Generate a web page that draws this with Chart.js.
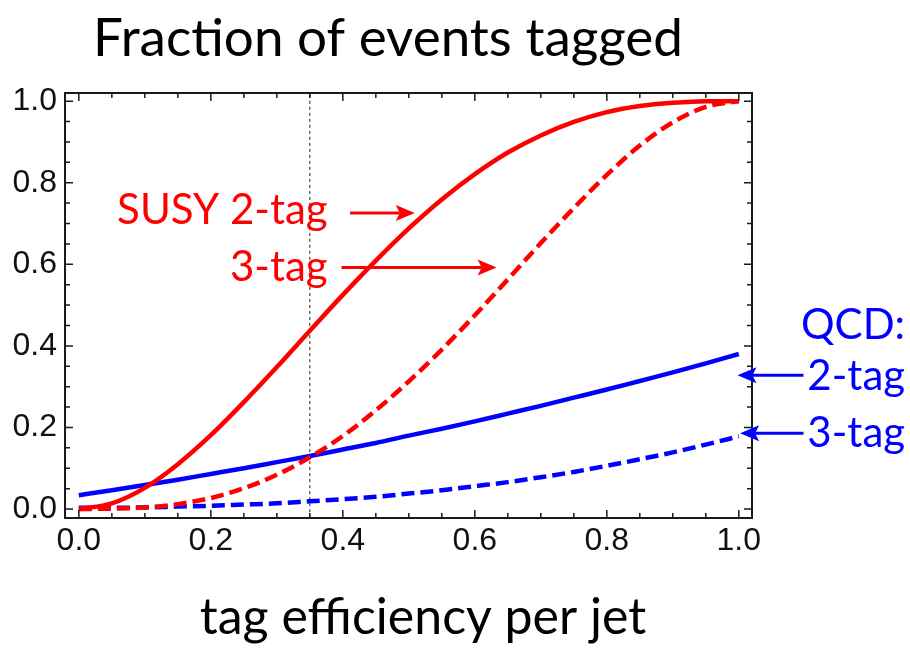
<!DOCTYPE html>
<html>
<head>
<meta charset="utf-8">
<script src="https://cdn.jsdelivr.net/npm/chart.js@4.4.1/dist/chart.umd.min.js"></script>
<style>
  html, body { margin: 0; padding: 0; background: #fff; }
  #wrap { width: 910px; height: 649px; }
</style>
</head>
<body>
<div id="wrap"><canvas id="chart" width="910" height="649"></canvas></div>
<script>
// tag efficiency per jet
const EFF = [0, 0.05, 0.1, 0.15, 0.2, 0.25, 0.3, 0.35, 0.4, 0.45, 0.5,
             0.55, 0.6, 0.65, 0.7, 0.75, 0.8, 0.85, 0.9, 0.95, 1.0];

// fraction of events tagged
const SUSY_2TAG = [0, 0.014, 0.052, 0.110, 0.181, 0.262, 0.348, 0.437, 0.525, 0.609, 0.688,
                   0.759, 0.821, 0.874, 0.916, 0.949, 0.973, 0.988, 0.996, 1.000, 1.000];
const SUSY_3TAG = [0, 0.001, 0.004, 0.012, 0.027, 0.051, 0.084, 0.127, 0.179, 0.242, 0.313,
                   0.391, 0.475, 0.563, 0.652, 0.738, 0.819, 0.891, 0.948, 0.986, 1.000];
const QCD_2TAG  = [0.034, 0.046, 0.059, 0.072, 0.086, 0.100, 0.115, 0.130, 0.146, 0.162, 0.180,
                   0.197, 0.215, 0.234, 0.253, 0.273, 0.293, 0.314, 0.335, 0.357, 0.380];
const QCD_3TAG  = [0.003, 0.003, 0.004, 0.006, 0.008, 0.011, 0.014, 0.019, 0.024, 0.030, 0.038,
                   0.046, 0.056, 0.066, 0.078, 0.091, 0.106, 0.122, 0.139, 0.158, 0.178];

const X_TICKS = [0, 0.2, 0.4, 0.6, 0.8, 1.0];
const Y_TICKS = [0, 0.2, 0.4, 0.6, 0.8, 1.0];
const CUT_EFF = 0.35;

const X_RANGE = [-0.021, 1.02];
const Y_RANGE = [-0.022, 1.02];

const RED = '#ff0000';
const BLUE = '#0000ff';
const LABEL_FONT = 'Lato, "Open Sans", sans-serif';

// labels with arrows, placed in data coordinates
const NOTES = [
  { text: 'SUSY 2-tag', color: RED,  at: [0.377, 0.700], align: 'right', arrow: [[0.411, 0.726], [0.509, 0.726]] },
  { text: '3-tag',      color: RED,  at: [0.377, 0.560], align: 'right', arrow: [[0.398, 0.592], [0.633, 0.592]] },
  { text: 'QCD:',       color: BLUE, at: [1.252, 0.418], align: 'right' },
  { text: '2-tag',      color: BLUE, at: [1.252, 0.291], align: 'right', arrow: [[1.098, 0.328], [0.998, 0.328]] },
  { text: '3-tag',      color: BLUE, at: [1.252, 0.152], align: 'right', arrow: [[1.098, 0.186], [1.002, 0.186]] },
];

const pts = ys => EFF.map((x, i) => ({ x, y: ys[i] }));

function drawArrow(ctx, x1, y1, x2, y2, color) {
  const ang = Math.atan2(y2 - y1, x2 - x1);
  const head = 19, half = 8, notch = 4;
  ctx.save();
  ctx.strokeStyle = color;
  ctx.fillStyle = color;
  ctx.lineWidth = 3;
  ctx.beginPath();
  ctx.moveTo(x1, y1);
  ctx.lineTo(x2 - Math.cos(ang) * (head - notch), y2 - Math.sin(ang) * (head - notch));
  ctx.stroke();
  ctx.translate(x2, y2);
  ctx.rotate(ang);
  ctx.beginPath();
  ctx.moveTo(0, 0);
  ctx.lineTo(-head, -half);
  ctx.lineTo(-head + notch, 0);
  ctx.lineTo(-head, half);
  ctx.closePath();
  ctx.fill();
  ctx.restore();
}

// frame with inward ticks on all four sides, plus title, axis label and notes
const framePlugin = {
  id: 'frame',
  afterDraw(chart) {
    const { ctx, chartArea: a, scales: { x, y } } = chart;
    ctx.save();
    ctx.strokeStyle = '#1a1a1a';
    ctx.lineWidth = 2;
    ctx.strokeRect(a.left, a.top, a.right - a.left, a.bottom - a.top);

    ctx.lineWidth = 1.5;
    const step = 0.2 / 4;
    ctx.beginPath();
    for (let i = 0; i < X_TICKS.length; i++) {
      for (let k = 0; k < 4; k++) {
        const v = X_TICKS[i] + k * step;
        if (v > X_TICKS[X_TICKS.length - 1] + 1e-9) break;
        const len = k === 0 ? 8 : 5;
        const px = x.getPixelForValue(v);
        ctx.moveTo(px, a.bottom); ctx.lineTo(px, a.bottom - len);
        ctx.moveTo(px, a.top); ctx.lineTo(px, a.top + len);
      }
    }
    for (let i = 0; i < Y_TICKS.length; i++) {
      for (let k = 0; k < 4; k++) {
        const v = Y_TICKS[i] + k * step;
        if (v > Y_TICKS[Y_TICKS.length - 1] + 1e-9) break;
        const len = k === 0 ? 8 : 5;
        const py = y.getPixelForValue(v);
        ctx.moveTo(a.left, py); ctx.lineTo(a.left + len, py);
        ctx.moveTo(a.right, py); ctx.lineTo(a.right - len, py);
      }
    }
    ctx.stroke();

    ctx.fillStyle = '#000';
    ctx.textBaseline = 'alphabetic';
    ctx.textAlign = 'center';
    ctx.font = '53px ' + LABEL_FONT;
    ctx.fillText('Fraction of events tagged', 388, 56);
    ctx.font = '50px ' + LABEL_FONT;
    ctx.fillText('tag efficiency per jet', 423, 634);

    ctx.font = '42px ' + LABEL_FONT;
    NOTES.forEach(n => {
      ctx.fillStyle = n.color;
      ctx.textAlign = n.align;
      ctx.fillText(n.text, x.getPixelForValue(n.at[0]), y.getPixelForValue(n.at[1]));
      if (n.arrow) {
        const [p, q] = n.arrow;
        drawArrow(ctx, x.getPixelForValue(p[0]), y.getPixelForValue(p[1]),
                  x.getPixelForValue(q[0]), y.getPixelForValue(q[1]), n.color);
      }
    });
    ctx.restore();
  }
};

const tickFont = { family: 'Liberation Sans', size: 32 };

new Chart(document.getElementById('chart'), {
  type: 'line',
  data: {
    datasets: [
      { data: pts(SUSY_2TAG), borderColor: RED, borderWidth: 4.5 },
      { data: pts(SUSY_3TAG), borderColor: RED, borderWidth: 4.5, borderDash: [13, 6] },
      { data: pts(QCD_2TAG), borderColor: BLUE, borderWidth: 4.5 },
      { data: pts(QCD_3TAG), borderColor: BLUE, borderWidth: 4.5, borderDash: [13, 6] },
      { data: [{ x: CUT_EFF, y: Y_RANGE[0] }, { x: CUT_EFF, y: Y_RANGE[1] }],
        borderColor: '#222', borderWidth: 1, borderDash: [3, 3] },
    ],
  },
  options: {
    responsive: false,
    animation: false,
    devicePixelRatio: 1,
    layout: { padding: { top: 93, right: 158, left: 0, bottom: 0 } },
    elements: {
      point: { radius: 0 },
      line: { cubicInterpolationMode: 'monotone', fill: false },
    },
    plugins: { legend: { display: false }, tooltip: { enabled: false }, title: { display: false } },
    scales: {
      x: {
        type: 'linear', min: X_RANGE[0], max: X_RANGE[1],
        afterBuildTicks: s => { s.ticks = X_TICKS.map(v => ({ value: v })); },
        afterFit: s => { s.height = 131; },
        grid: { display: false, drawTicks: false },
        border: { display: false },
        ticks: { padding: 4, font: tickFont, color: '#111', maxRotation: 0, autoSkip: false,
                 callback: v => v.toFixed(1) },
      },
      y: {
        type: 'linear', min: Y_RANGE[0], max: Y_RANGE[1],
        afterBuildTicks: s => { s.ticks = Y_TICKS.map(v => ({ value: v })); },
        afterFit: s => { s.width = 65; },
        grid: { display: false, drawTicks: false },
        border: { display: false },
        ticks: { padding: 8, font: tickFont, color: '#111', autoSkip: false,
                 callback: v => v.toFixed(1) },
      },
    },
  },
  plugins: [framePlugin],
});
</script>
</body>
</html>
